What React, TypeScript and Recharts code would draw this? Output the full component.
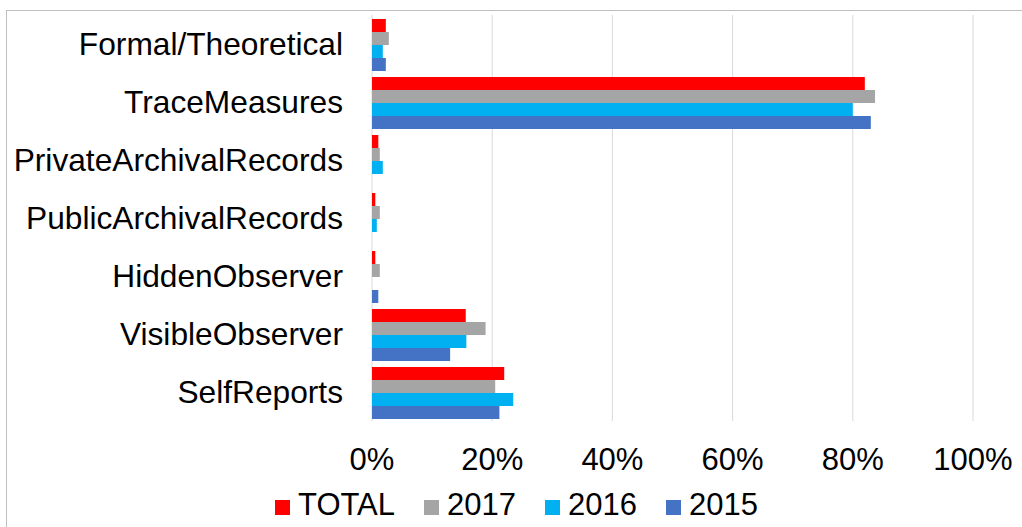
import React from "react";
import {
  BarChart,
  Bar,
  XAxis,
  YAxis,
  CartesianGrid,
  Legend,
} from "recharts";

const CATEGORIES = [
  "Formal/Theoretical",
  "TraceMeasures",
  "PrivateArchivalRecords",
  "PublicArchivalRecords",
  "HiddenObserver",
  "VisibleObserver",
  "SelfReports",
];

// shares, 0..1
const TOTAL = [0.023, 0.82, 0.0105, 0.0055, 0.0055, 0.156, 0.22];
const Y2017 = [0.028, 0.837, 0.013, 0.013, 0.013, 0.189, 0.205];
const Y2016 = [0.018, 0.8, 0.018, 0.008, 0, 0.157, 0.235];
const Y2015 = [0.023, 0.83, 0, 0, 0.0105, 0.13, 0.212];

const X_TICKS = [0, 0.2, 0.4, 0.6, 0.8, 1];

const SERIES = [
  { key: "total", name: "TOTAL", color: "#FF0000" },
  { key: "y2017", name: "2017", color: "#A5A5A5" },
  { key: "y2016", name: "2016", color: "#00B0F0" },
  { key: "y2015", name: "2015", color: "#4472C4" },
];

const data = CATEGORIES.map((c, i) => ({
  category: c,
  total: TOTAL[i],
  y2017: Y2017[i],
  y2016: Y2016[i],
  y2015: Y2015[i],
}));

const FONT = "'Liberation Sans', Arial, sans-serif";

function LegendContent() {
  return (
    <div
      style={{
        display: "flex",
        alignItems: "center",
        marginLeft: 275,
        marginTop: 6,
        fontFamily: FONT,
        fontSize: 31,
        color: "#000",
        lineHeight: "40px",
      }}
    >
      {SERIES.map((s) => (
        <div key={s.key} style={{ display: "flex", alignItems: "center", marginRight: 29 }}>
          <span
            style={{
              display: "inline-block",
              width: 15,
              height: 15,
              background: s.color,
              marginRight: 8,
              marginTop: 4,
            }}
          />
          <span>{s.name}</span>
        </div>
      ))}
    </div>
  );
}

export default function App() {
  return (
    <div style={{ position: "absolute", left: 0, top: 0, width: 1022, height: 527, background: "#fff" }}>
      {/* frame */}
      <div
        style={{
          position: "absolute",
          left: 6,
          top: 10,
          width: 1030,
          height: 530,
          border: "1.5px solid #bfbfbf",
        }}
      />
      <BarChart
        width={1022}
        height={527}
        data={data}
        layout="vertical"
        margin={{ top: 15, right: 49, left: 0, bottom: 0 }}
        barCategoryGap={4}
        barGap={0}
      >
        <CartesianGrid horizontal={false} stroke="#d9d9d9" />
        <XAxis
          type="number"
          domain={[0, 1]}
          ticks={X_TICKS}
          tickFormatter={(v: number) => `${Math.round(v * 100)}%`}
          tick={{ fontSize: 31, fill: "#000", fontFamily: FONT }}
          tickLine={false}
          axisLine={false}
          tickMargin={21}
          height={58}
          interval={0}
        />
        <YAxis
          type="category"
          dataKey="category"
          width={372}
          tick={{ fontSize: 31.7, fill: "#000", fontFamily: FONT }}
          tickLine={false}
          axisLine={false}
          tickMargin={23}
          interval={0}
        />
        <Legend
          verticalAlign="bottom"
          content={<LegendContent />}
          wrapperStyle={{ left: 0, width: 1022, height: 48 }}
        />
        {SERIES.map((s) => (
          <Bar
            key={s.key}
            dataKey={s.key}
            name={s.name}
            fill={s.color}
            isAnimationActive={false}
          />
        ))}
      </BarChart>
    </div>
  );
}
